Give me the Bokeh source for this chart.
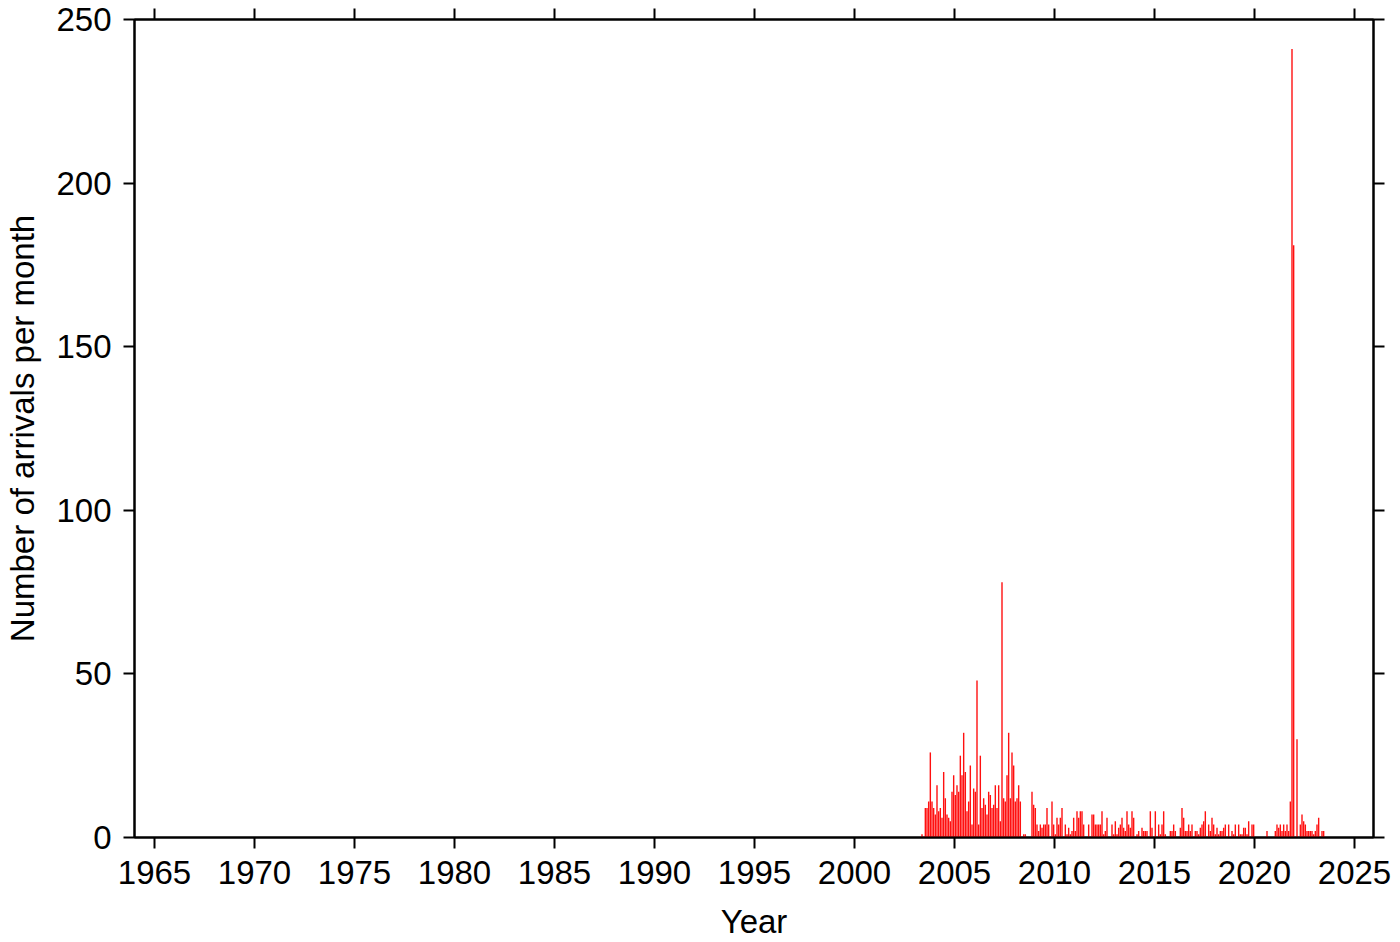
from bokeh.plotting import figure
from bokeh.models import (ColumnDataSource, LinearAxis, FixedTicker, Range1d,
                          CustomLabelingPolicy)
from bokeh.embed import file_html
from bokeh.resources import INLINE

# Monthly arrival counts (Jan..Dec) per year
counts_2003 = [0, 0, 0, 0, 1, 0, 9, 9, 11, 26, 11, 9]
counts_2004 = [7, 16, 8, 9, 6, 20, 12, 7, 6, 5, 14, 19]
counts_2005 = [13, 16, 14, 25, 19, 32, 20, 8, 11, 22, 4, 15]
counts_2006 = [14, 48, 4, 25, 9, 12, 10, 7, 14, 13, 9, 10]
counts_2007 = [16, 9, 16, 5, 78, 12, 11, 19, 32, 12, 26, 22]
counts_2008 = [11, 12, 16, 11, 0, 1, 1, 0, 0, 0, 14, 10]
counts_2009 = [9, 4, 2, 4, 3, 4, 4, 9, 4, 0, 11, 4]
counts_2010 = [1, 6, 4, 6, 9, 0, 4, 1, 3, 1, 2, 6]
counts_2011 = [2, 8, 6, 8, 8, 4, 0, 0, 4, 0, 7, 7]
counts_2012 = [4, 4, 4, 4, 8, 1, 2, 6, 0, 0, 4, 1]
counts_2013 = [5, 1, 3, 4, 6, 3, 2, 8, 4, 3, 8, 6]
counts_2014 = [0, 1, 2, 0, 3, 2, 2, 2, 0, 8, 3, 0]
counts_2015 = [8, 0, 4, 1, 4, 8, 1, 0, 0, 2, 2, 4]
counts_2016 = [2, 0, 0, 3, 9, 6, 2, 2, 4, 2, 4, 0]
counts_2017 = [2, 2, 1, 3, 4, 5, 8, 0, 4, 2, 6, 4]
counts_2018 = [1, 3, 1, 2, 2, 3, 4, 0, 4, 0, 2, 1]
counts_2019 = [4, 0, 4, 1, 1, 3, 3, 1, 5, 0, 4, 4]
counts_2020 = [0, 0, 0, 0, 0, 0, 0, 2, 0, 0, 0, 0]
counts_2021 = [2, 4, 3, 4, 2, 4, 2, 4, 2, 11, 241, 181]
counts_2022 = [0, 30, 0, 4, 7, 5, 4, 2, 2, 2, 2, 1]
counts_2023 = [2, 4, 6, 0, 2, 2]

years = list(range(2003, 2024))
yearly = [counts_2003, counts_2004, counts_2005, counts_2006, counts_2007,
          counts_2008, counts_2009, counts_2010, counts_2011, counts_2012,
          counts_2013, counts_2014, counts_2015, counts_2016, counts_2017,
          counts_2018, counts_2019, counts_2020, counts_2021, counts_2022,
          counts_2023]

x_ticks = list(range(1965, 2030, 5))
y_ticks = [0, 50, 100, 150, 200, 250]

xs, tops = [], []
for yr, vals in zip(years, yearly):
    for m, v in enumerate(vals):
        if v > 0:
            xs.append(yr + (m + 0.5) / 12.0)
            tops.append(v)

src = ColumnDataSource(data=dict(x=xs, top=tops))

FONT = "Liberation Sans"
FS = "33px"

p = figure(width=1400, height=942, output_backend="svg", toolbar_location=None,
           x_range=Range1d(1964.0, 2025.95), y_range=Range1d(0, 250),
           x_axis_type=None, y_axis_type=None,
           min_border_left=134, min_border_right=27, min_border_top=19,
           min_border_bottom=0)
p.xgrid.visible = False
p.ygrid.visible = False
p.outline_line_color = "black"
p.outline_line_width = 2
p.background_fill_color = "white"
p.border_fill_color = "white"

p.vbar(x="x", top="top", width=0.07, bottom=0, source=src,
       fill_color="#ff1010", line_color=None)

hide_all = CustomLabelingPolicy(code="""
const all = [];
for (const i of indices) all.push(i);
for (const i of all) indices.unset(i);
return indices;
""")


def style(ax, labels=True):
    ax.axis_line_width = 2
    ax.axis_line_color = "black"
    ax.major_tick_line_width = 2
    ax.major_tick_line_color = "black"
    ax.major_tick_out = 11
    ax.major_tick_in = 0
    ax.minor_tick_out = 0
    ax.minor_tick_in = 0
    ax.major_label_text_font = FONT
    ax.major_label_text_color = "black"
    ax.axis_label_text_font = FONT
    ax.axis_label_text_font_size = FS
    ax.axis_label_text_font_style = "normal"
    ax.axis_label_text_color = "black"
    if labels:
        ax.major_label_text_font_size = FS
        ax.major_label_standoff = 12
    else:
        ax.major_label_text_font_size = "1px"
        ax.major_label_policy = hide_all
        ax.major_label_standoff = 0


bottom = LinearAxis(ticker=FixedTicker(ticks=x_ticks), axis_label="Year")
style(bottom)
bottom.major_label_standoff = 12
bottom.axis_label_standoff = 16
p.add_layout(bottom, "below")

top = LinearAxis(ticker=FixedTicker(ticks=x_ticks))
style(top, labels=False)
p.add_layout(top, "above")

left = LinearAxis(ticker=FixedTicker(ticks=y_ticks),
                  axis_label="Number of arrivals per month")
style(left)
left.major_label_standoff = 12
left.axis_label_standoff = 12
p.add_layout(left, "left")

right = LinearAxis(ticker=FixedTicker(ticks=y_ticks))
style(right, labels=False)
p.add_layout(right, "right")

open("out.html", "w").write(file_html(p, INLINE))
